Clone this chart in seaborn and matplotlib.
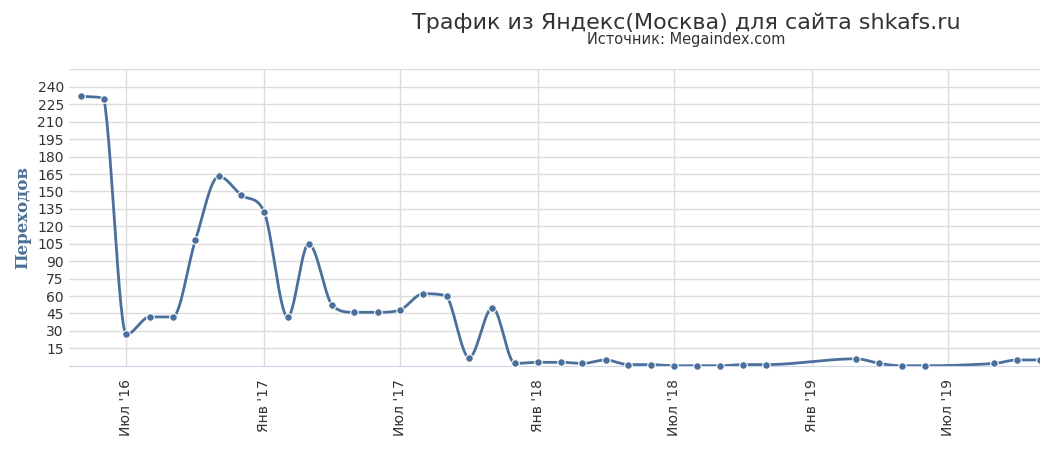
import numpy as np
import pandas as pd
import matplotlib
matplotlib.use("Agg")
import matplotlib.pyplot as plt
import matplotlib.dates as mdates
import seaborn as sns

dates = ["2016-05","2016-06","2016-07","2016-08","2016-09","2016-10","2016-11","2016-12",
         "2017-01","2017-02","2017-03","2017-04","2017-05","2017-06","2017-07","2017-08",
         "2017-09","2017-10","2017-11","2017-12","2018-01","2018-02","2018-03","2018-04",
         "2018-05","2018-06","2018-07","2018-08","2018-09","2018-10","2018-11",
         "2019-03","2019-04","2019-05","2019-06","2019-09","2019-10","2019-11"]
values = [232,230,27,42,42,108,163,147,132,42,105,52,46,46,48,62,60,7,50,2,3,3,2,5,1,1,0,0,0,1,1,6,2,0,0,2,5,5]
tick_dates = ["2016-07","2017-01","2017-07","2018-01","2018-07","2019-01","2019-07"]
tick_labels = ["Июл '16","Янв '17","Июл '17","Янв '18","Июл '18","Янв '19","Июл '19"]

sns.set_style("white")
plt.rcParams['font.family'] = ['DejaVu Sans']
color = "#4a6f9c"

x = mdates.date2num(pd.to_datetime(dates))
y = np.array(values, float)

xs, ys = [], []
n = len(x)
for i in range(n - 1):
    x0, x1 = x[i], x[i+1]
    y0, y1 = y[i], y[i+1]
    d = (y1-y0)/(x1-x0)
    m0 = (y[i+1]-y[i-1])/(x[i+1]-x[i-1]) if i > 0 else d
    m1 = (y[i+2]-y[i])/(x[i+2]-x[i]) if i+2 < n else d
    if i > 0 and (y[i]-y[i-1])*(y1-y0) <= 0: m0 = 0
    if i+2 < n and (y1-y0)*(y[i+2]-y1) <= 0: m1 = 0
    for m in ("m0", "m1"):
        pass
    if d == 0:
        m0 = m1 = 0
    else:
        if m0 * d < 0: m0 = 0
        if m1 * d < 0: m1 = 0
        m0 = np.sign(m0) * min(abs(m0), 3*abs(d))
        m1 = np.sign(m1) * min(abs(m1), 3*abs(d))
    h = x1 - x0
    t = np.linspace(0, 1, 30)
    h00 = 2*t**3-3*t**2+1; h10 = t**3-2*t**2+t; h01 = -2*t**3+3*t**2; h11 = t**3-t**2
    xs.append(x0 + t*h); ys.append(h00*y0 + h10*h*m0 + h01*y1 + h11*h*m1)
curve = pd.DataFrame({"x": np.concatenate(xs), "y": np.concatenate(ys)})
pts = pd.DataFrame({"x": x, "y": y})

fig = plt.figure(figsize=(10.4, 4.63), dpi=100)
ax = fig.add_axes([0.066, 0.21, 0.934, 0.64])
sns.lineplot(data=curve, x="x", y="y", ax=ax, color=color, lw=2, sort=False)
sns.scatterplot(data=pts, x="x", y="y", ax=ax, color=color, s=30, edgecolor="white", linewidth=0.8, zorder=5, clip_on=False)

ax.set_ylim(0, 255)
ax.set_yticks(range(15, 241, 15))
for v in range(15, 256, 15):
    ax.axhline(v, color="#dcdcdc", lw=1, zorder=0)
tx = mdates.date2num(pd.to_datetime(tick_dates))
for t in tx:
    ax.axvline(t, color="#dcdcdc", lw=1, zorder=0)
ax.set_xticks(tx)
ax.set_xticklabels(tick_labels, rotation=90, fontsize=10, color="#333333")
ax.set_xlim(x[0] - 16, x[-1])
ax.tick_params(axis="y", labelsize=10, labelcolor="#333333", length=0)
ax.tick_params(axis="x", length=6, color="#ccd6eb")
for s in ["top", "right", "left"]:
    ax.spines[s].set_visible(False)
ax.spines["bottom"].set_color("#ccd6eb")
ax.set_xlabel("")
ax.set_ylabel("Переходов", fontsize=12, fontweight="bold", color="#4d6f95", family="DejaVu Serif")
fig.text(0.66, 0.95, "Трафик из Яндекс(Москва) для сайта shkafs.ru", ha="center", va="center", fontsize=16, color="#333333")
fig.text(0.66, 0.915, "Источник: Megaindex.com", ha="center", va="center", fontsize=10.5, color="#333333")
fig.savefig("out.png", dpi=100)
